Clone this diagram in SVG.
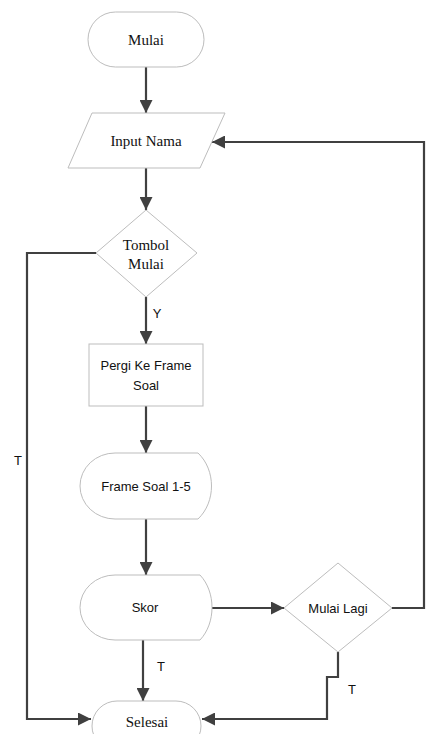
<svg xmlns="http://www.w3.org/2000/svg" width="426" height="734" viewBox="0 0 426 734">
<defs>
<marker id="ah" markerUnits="userSpaceOnUse" markerWidth="13" markerHeight="13" refX="13" refY="6.5" orient="auto">
<path d="M0,0 L13,6.5 L0,13 Z" fill="#404040"/>
</marker>
<style>
.shape{fill:#ffffff;stroke:#bdbdbd;stroke-width:1}
.conn{fill:none;stroke:#404040;stroke-width:2.2}
.serif{font-family:"Liberation Serif","Times New Roman",serif;font-size:15px;fill:#111;text-anchor:middle}
.sans{font-family:"Liberation Sans",Arial,sans-serif;font-size:13px;fill:#111;text-anchor:middle}
.lbl{font-family:"Liberation Sans",Arial,sans-serif;font-size:13px;fill:#111;text-anchor:middle}
</style>
</defs>
<rect width="426" height="734" fill="#ffffff"/>
<g id="connectors">
<path class="conn" d="M146,67 V113" marker-end="url(#ah)"/>
<path class="conn" d="M146,168 V210" marker-end="url(#ah)"/>
<path class="conn" d="M146,297 V344" marker-end="url(#ah)"/>
<path class="conn" d="M146,406 V453" marker-end="url(#ah)"/>
<path class="conn" d="M146,519 V575" marker-end="url(#ah)"/>
<path class="conn" d="M143,640 V701" marker-end="url(#ah)"/>
<path class="conn" d="M212,608 H284" marker-end="url(#ah)"/>
<path class="conn" d="M392,608 H424 V142 H212" marker-end="url(#ah)"/>
<path class="conn" d="M338,652 V677 H327 V719 H202" marker-end="url(#ah)"/>
<path class="conn" d="M96,253 H27 V719 H91" marker-end="url(#ah)"/>
<text class="lbl" x="157" y="318">Y</text>
<text class="lbl" x="18" y="465">T</text>
<text class="lbl" x="161" y="671">T</text>
<text class="lbl" x="352" y="694">T</text>
</g>
<g id="mulai">
<rect class="shape" x="88" y="12" width="116" height="55" rx="27.5"/>
<text class="serif" x="146" y="45">Mulai</text>
</g>
<g id="input-nama">
<path class="shape" d="M92,113 L225,113 L200,168 L68,168 Z"/>
<text class="serif" x="146" y="146" font-size="14">Input Nama</text>
</g>
<g id="tombol-mulai">
<path class="shape" d="M146,210 L197,253 L146,297 L96,253 Z"/>
<text class="serif" x="146" y="250">Tombol</text>
<text class="serif" x="146" y="269">Mulai</text>
</g>
<g id="pergi-ke-frame-soal">
<rect class="shape" x="89" y="344" width="114" height="62"/>
<text class="sans" x="146" y="370">Pergi Ke Frame</text>
<text class="sans" x="146" y="390">Soal</text>
</g>
<g id="frame-soal">
<path class="shape" d="M115,453 L198,453 C216,470 216,502 198,519 L115,519 A35,33 0 0 1 115,453 Z"/>
<text class="sans" x="146" y="491">Frame Soal 1-5</text>
</g>
<g id="skor">
<path class="shape" d="M115,575 L200,575 C216,592 216,623 200,640 L115,640 A35,32.5 0 0 1 115,575 Z"/>
<text class="sans" x="145" y="612">Skor</text>
</g>
<g id="mulai-lagi">
<path class="shape" d="M338,563 L392,608 L338,652 L284,608 Z"/>
<text class="sans" x="338" y="613" font-size="13.5">Mulai Lagi</text>
</g>
<g id="selesai">
<rect class="shape" x="92" y="701" width="109" height="50" rx="25"/>
<text class="serif" x="147" y="727" font-size="15.5">Selesai</text>
</g>
</svg>
